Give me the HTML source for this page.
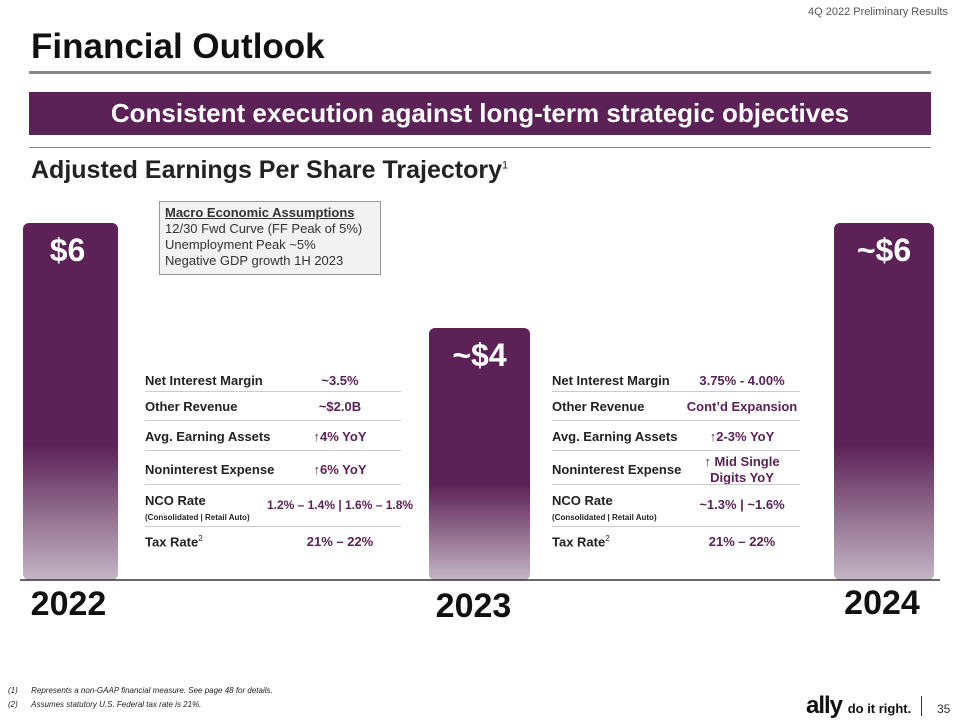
<!DOCTYPE html>
<html><head><meta charset="utf-8"><style>
body{margin:0;width:960px;height:720px;background:#fff;position:relative;overflow:hidden;font-family:"Liberation Sans",sans-serif}
.a{position:absolute}
.b{font-weight:bold}
.lbl{font-size:13px;font-weight:bold;color:#222}
.val{font-size:13px;font-weight:bold;color:#5c2157;text-align:center}
.sep{height:1px;background:#ccc}
</style></head><body>
<div class="a" style="right:12px;top:6px;font-size:11px;color:#555">4Q 2022 Preliminary Results</div>
<div class="a b" style="left:31px;top:27px;font-size:35px;color:#111">Financial Outlook</div>
<div class="a" style="left:29px;top:71px;width:902px;height:3px;background:#888"></div>
<div class="a b" style="left:29px;top:92px;width:902px;height:43px;background:#5c2157;color:#fff;font-size:26px;text-align:center;line-height:43px">Consistent execution against long-term strategic objectives</div>
<div class="a" style="left:29px;top:147px;width:902px;height:1px;background:#888"></div>
<div class="a b" style="left:31px;top:156px;font-size:25px;color:#222">Adjusted Earnings Per Share Trajectory<sup style="font-size:11px;font-weight:normal">1</sup></div>
<div class="a" style="left:159px;top:201px;width:222px;height:74px;background:#f2f2f2;border:1px solid #999;font-size:13px;color:#333;padding:3px 5px;box-sizing:border-box;line-height:16px"><b style="text-decoration:underline">Macro Economic Assumptions</b><br>12/30 Fwd Curve (FF Peak of 5%)<br>Unemployment Peak ~5%<br>Negative GDP growth 1H 2023</div>
<svg class="a" style="left:0;top:0" width="960" height="720">
<defs><linearGradient id="g" x1="0" y1="0" x2="0" y2="1"><stop offset="0" stop-color="#5c2157"/><stop offset="0.62" stop-color="#5c2157"/><stop offset="1" stop-color="#c4b6c4"/></linearGradient></defs>
<g id="bars"></g>
<line x1="20" y1="580" x2="940" y2="580" stroke="#333" stroke-width="1.5"/>
</svg>
<div class="a" style="left:145px;top:368px;width:270px">
<div class="a lbl" style="top:5px">Net Interest Margin</div><div class="a val" style="left:130px;width:130px;top:5px">~3.5%</div>
<div class="a sep" style="top:23px;width:256px"></div>
<div class="a lbl" style="top:31px">Other Revenue</div><div class="a val" style="left:130px;width:130px;top:31px">~$2.0B</div>
<div class="a sep" style="top:52px;width:256px"></div>
<div class="a lbl" style="top:61px">Avg. Earning Assets</div><div class="a val" style="left:130px;width:130px;top:61px">↑4% YoY</div>
<div class="a sep" style="top:82px;width:256px"></div>
<div class="a lbl" style="top:94px">Noninterest Expense</div><div class="a val" style="left:130px;width:130px;top:94px">↑6% YoY</div>
<div class="a sep" style="top:116px;width:256px"></div>
<div class="a lbl" style="top:125px">NCO Rate<br><span style="font-size:8px">(Consolidated | Retail Auto)</span></div><div class="a val" style="left:115px;width:160px;top:130px;font-size:12px">1.2% – 1.4% | 1.6% – 1.8%</div>
<div class="a sep" style="top:158px;width:256px"></div>
<div class="a lbl" style="top:166px">Tax Rate<sup style="font-size:8px;font-weight:normal">2</sup></div><div class="a val" style="left:130px;width:130px;top:166px">21% – 22%</div>
</div>
<div class="a" style="left:552px;top:368px;width:260px">
<div class="a lbl" style="top:5px">Net Interest Margin</div><div class="a val" style="left:120px;width:140px;top:5px">3.75% - 4.00%</div>
<div class="a sep" style="top:23px;width:248px"></div>
<div class="a lbl" style="top:31px">Other Revenue</div><div class="a val" style="left:120px;width:140px;top:31px">Cont’d Expansion</div>
<div class="a sep" style="top:52px;width:248px"></div>
<div class="a lbl" style="top:61px">Avg. Earning Assets</div><div class="a val" style="left:120px;width:140px;top:61px">↑2-3% YoY</div>
<div class="a sep" style="top:82px;width:248px"></div>
<div class="a lbl" style="top:94px">Noninterest Expense</div><div class="a val" style="left:120px;width:140px;top:86px;line-height:16px">↑ Mid Single<br>Digits YoY</div>
<div class="a sep" style="top:116px;width:248px"></div>
<div class="a lbl" style="top:125px">NCO Rate<br><span style="font-size:8px">(Consolidated | Retail Auto)</span></div><div class="a val" style="left:120px;width:140px;top:129px">~1.3% | ~1.6%</div>
<div class="a sep" style="top:158px;width:248px"></div>
<div class="a lbl" style="top:166px">Tax Rate<sup style="font-size:8px;font-weight:normal">2</sup></div><div class="a val" style="left:120px;width:140px;top:166px">21% – 22%</div>
</div>
<div class="a" style="left:8px;top:686px;font-size:8px;font-style:italic;color:#222">(1)&nbsp;&nbsp;&nbsp;&nbsp;&nbsp;&nbsp;Represents a non-GAAP financial measure. See page 48 for details.</div>
<div class="a" style="left:8px;top:700px;font-size:8px;font-style:italic;color:#222">(2)&nbsp;&nbsp;&nbsp;&nbsp;&nbsp;&nbsp;Assumes statutory U.S. Federal tax rate is 21%.</div>
<div class="a b" style="left:806px;top:692px;font-size:24px;color:#111;letter-spacing:-1px">ally <span style="font-size:13px;letter-spacing:0">do it right.</span></div>
<div class="a" style="left:921px;top:696px;width:1px;height:20px;background:#333"></div>
<div class="a" style="left:937px;top:702px;font-size:12px;color:#333">35</div>
<script>
const years=["2022","2023","2024"];
const eps=[6,4,6];
const epsLabels=["$6","~$4","~$6"];
const xs=[23,429,834], bw=[95,101,100];
const base=580, vMin=-0.8, k=52.5;
const y=v=>base-(v-vMin)*k;
const g=document.getElementById('bars');
const NS="http://www.w3.org/2000/svg";
const labOff=[-2,-6,-2], labY=[615,617,614];
years.forEach((yr,i)=>{
 const r=document.createElementNS(NS,'rect');
 
 
 r.setAttribute('x',xs[i]);r.setAttribute('y',y(eps[i]));r.setAttribute('width',bw[i]);r.setAttribute('height',base-y(eps[i]));r.setAttribute('rx',6);r.setAttribute('fill','url(#g)');
 g.appendChild(r);
 const t=document.createElementNS(NS,'text');
 
 
 t.setAttribute('x',xs[i]+bw[i]/2-(i==0?3:0));t.setAttribute('y',y(eps[i])+38);t.setAttribute('text-anchor','middle');
 t.setAttribute('fill','#fff');t.setAttribute('font-size','32');t.setAttribute('font-weight','bold');t.setAttribute('font-family','Liberation Sans');
 t.textContent=epsLabels[i];g.appendChild(t);
 const l=document.createElementNS(NS,'text');
 
 
 l.setAttribute('x',xs[i]+bw[i]/2+labOff[i]);l.setAttribute('y',labY[i]);l.setAttribute('text-anchor','middle');
 l.setAttribute('fill','#111');l.setAttribute('font-size','34');l.setAttribute('font-weight','bold');l.setAttribute('font-family','Liberation Sans');
 l.textContent=yr;g.appendChild(l);
});
</script>
</body></html>
